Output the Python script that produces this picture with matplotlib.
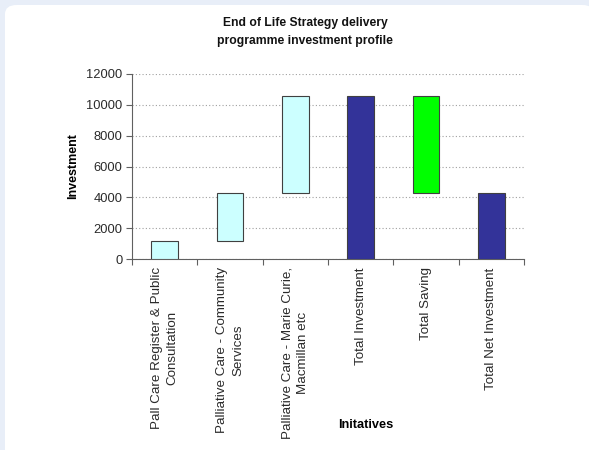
import matplotlib
matplotlib.use("Agg")
import matplotlib.pyplot as plt
from matplotlib.patches import FancyBboxPatch
import numpy as np

# Waterfall-style investment profile
categories = [
    "Pall Care Register & Public\nConsultation",
    "Palliative Care - Community\nServices",
    "Palliative Care - Marie Curie,\nMacmillan etc",
    "Total Investment",
    "Total Saving",
    "Total Net Investment",
]
bar_bottoms = [0, 1150, 4300, 0, 4300, 0]
bar_tops = [1150, 4300, 10600, 10600, 10600, 4300]
bar_colors = ["#ccffff", "#ccffff", "#ccffff", "#333399", "#00ff00", "#333399"]
y_ticks = [0, 2000, 4000, 6000, 8000, 10000, 12000]

plt.rcParams["font.family"] = ["Liberation Sans", "DejaVu Sans"]

fig = plt.figure(figsize=(5.89, 4.50), dpi=100)
fig.patch.set_facecolor("#e8eef8")

# White rounded panel behind the chart
panel = FancyBboxPatch((5 / 589, -0.05), 1.0, 1 - 5 / 450 + 0.05,
                       boxstyle="round,pad=0,rounding_size=0.02",
                       transform=fig.transFigure, facecolor="white",
                       edgecolor="none", zorder=-5)
fig.patches.append(panel)

ax = fig.add_axes([132 / 589, 1 - 259 / 450, (524 - 132) / 589, (259 - 74) / 450])
ax.set_facecolor("none")
ax.set_zorder(2)

x = np.arange(len(categories))
heights = [t - b for t, b in zip(bar_tops, bar_bottoms)]
ax.bar(x, heights, bottom=bar_bottoms, width=0.41, color=bar_colors,
       edgecolor="#404040", linewidth=0.8, zorder=3)

ax.set_xlim(-0.5, len(categories) - 0.5)
ax.set_ylim(0, 12000)
ax.set_yticks(y_ticks)
ax.set_yticklabels([str(v) for v in y_ticks], fontsize=9.3, color="#2a2a2a")
ax.yaxis.grid(True, linestyle=(0, (1, 2)), color="#a0a0a0", linewidth=0.8, zorder=0)

ax.set_xticks(x)
ax.set_xticklabels(categories, rotation=90, fontsize=9.6, color="#2a2a2a",
                   ha="center", va="top", multialignment="center",
                   linespacing=1.45)
ax.tick_params(axis="x", length=0, pad=6)
ax.set_xticks(np.arange(-0.5, len(categories), 1.0), minor=True)
ax.tick_params(axis="x", which="minor", length=4, color="#606060", width=0.8)
ax.tick_params(axis="y", length=4, color="#606060", width=0.8, pad=3)

for side in ("top", "right"):
    ax.spines[side].set_visible(False)
for side in ("left", "bottom"):
    ax.spines[side].set_color("#606060")
    ax.spines[side].set_linewidth(0.8)

ax.set_ylabel("Investment", fontsize=9, fontweight="bold", labelpad=5)
fig.text(366 / 589, 1 - 425 / 450, "Initatives", fontsize=9.2, fontweight="bold",
         ha="center", va="center", zorder=3)
fig.text(305 / 589, 1 - 32 / 450,
         "End of Life Strategy delivery\nprogramme investment profile",
         fontsize=8.7, fontweight="bold", ha="center", va="center",
         linespacing=1.75, color="#111111", zorder=3)

fig.savefig("out.png", dpi=100, facecolor=fig.get_facecolor())
